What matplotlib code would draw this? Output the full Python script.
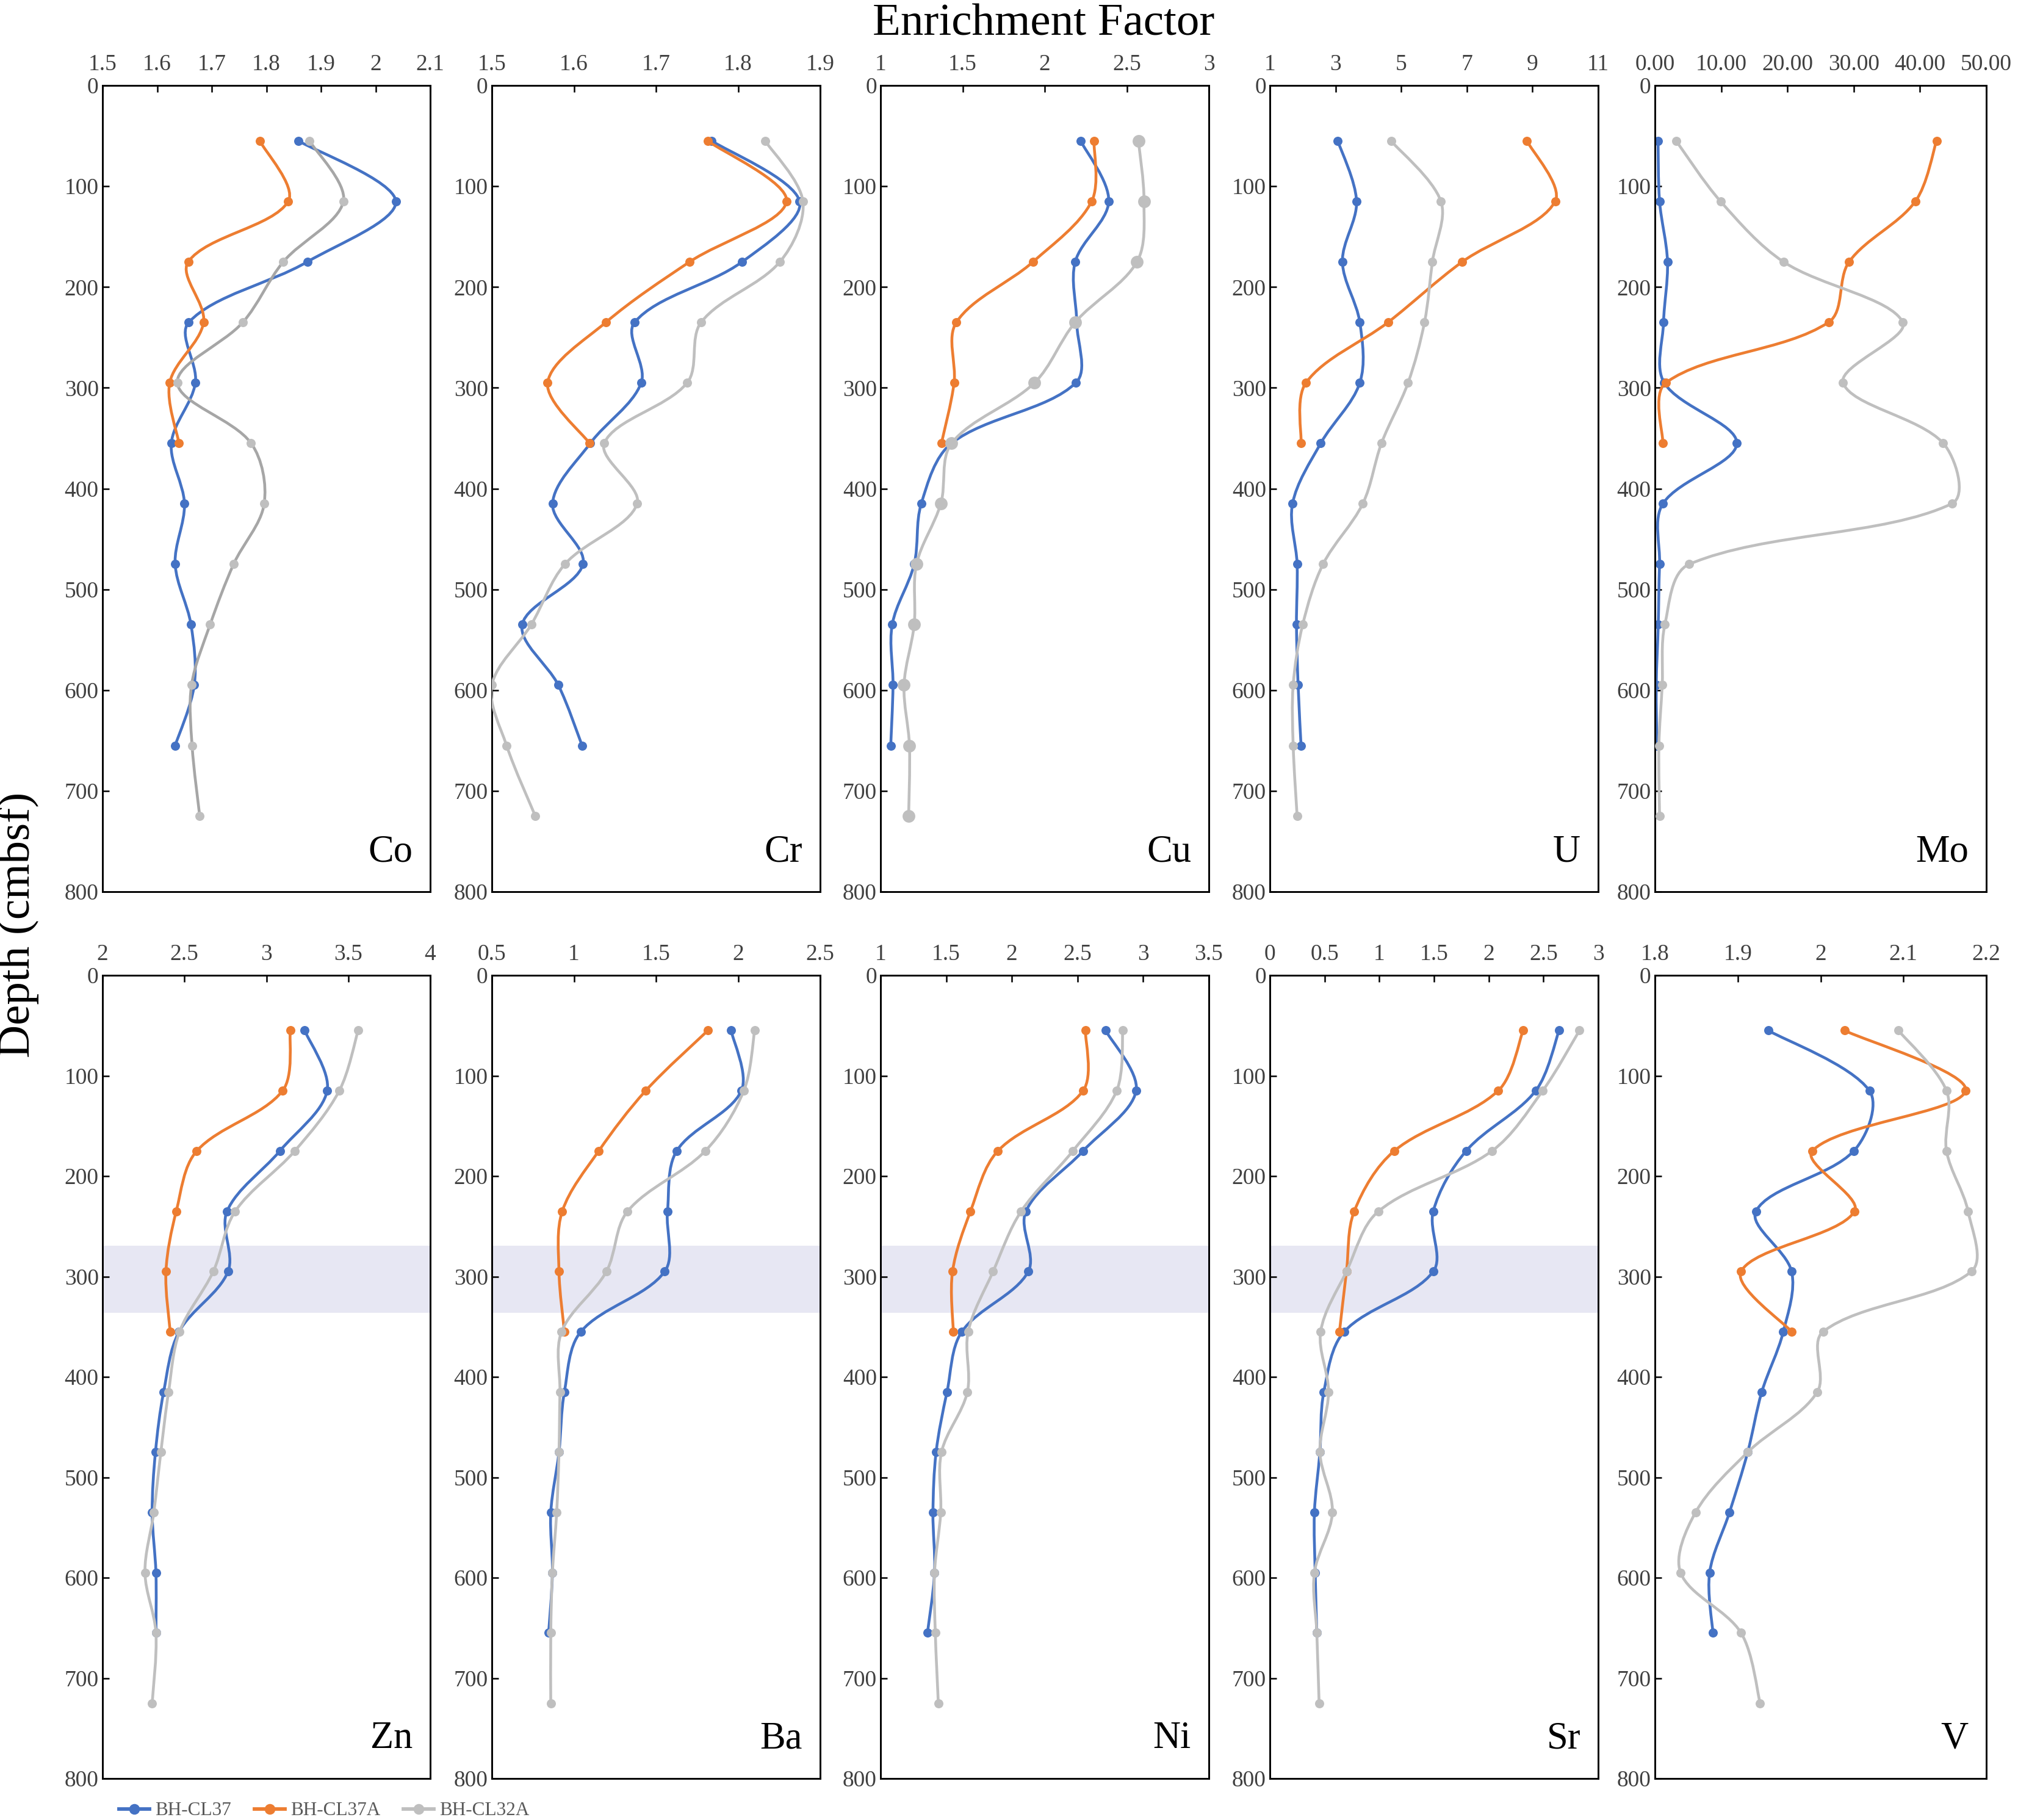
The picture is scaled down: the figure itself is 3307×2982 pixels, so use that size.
import numpy as np
import matplotlib
matplotlib.use("Agg")
import matplotlib.pyplot as plt
from matplotlib.path import Path
from matplotlib.patches import PathPatch
from matplotlib.lines import Line2D

plt.rcParams['font.family'] = ['Liberation Serif', 'DejaVu Serif']

# sample depths (cmbsf) for each core
depth_37 = [55, 115, 175, 235, 295, 355, 415, 475, 535, 595, 655]
depth_37a = [55, 115, 175, 235, 295, 355]
depth_32a = [55, 115, 175, 235, 295, 355, 415, 475, 535, 595, 655, 725]

# enrichment factors
co_37 = [1.859, 2.037, 1.875, 1.658, 1.670, 1.626, 1.650, 1.633, 1.662, 1.668, 1.633]
co_37a = [1.788, 1.840, 1.657, 1.685, 1.623, 1.640]
co_32a = [1.879, 1.941, 1.831, 1.757, 1.637, 1.772, 1.796, 1.740, 1.697, 1.663, 1.664, 1.678]
cr_37 = [1.768, 1.875, 1.805, 1.674, 1.682, 1.620, 1.574, 1.611, 1.537, 1.581, 1.610]
cr_37a = [1.763, 1.859, 1.741, 1.639, 1.568, 1.619]
cr_32a = [1.833, 1.879, 1.851, 1.755, 1.738, 1.637, 1.677, 1.589, 1.548, 1.500, 1.518, 1.553]
cu_37 = [2.219, 2.390, 2.186, 2.195, 2.190, 1.433, 1.248, 1.205, 1.071, 1.076, 1.062]
cu_37a = [2.300, 2.286, 1.929, 1.462, 1.448, 1.371]
cu_32a = [2.571, 2.605, 2.562, 2.186, 1.938, 1.433, 1.367, 1.219, 1.205, 1.143, 1.176, 1.171]
u_37 = [3.07, 3.64, 3.21, 3.74, 3.74, 2.55, 1.69, 1.83, 1.81, 1.86, 1.95]
u_37a = [8.83, 9.69, 6.86, 4.60, 2.10, 1.95]
u_32a = [4.69, 6.21, 5.95, 5.71, 5.21, 4.40, 3.83, 2.62, 2.00, 1.71, 1.71, 1.83]
mo_37 = [0.47, 0.70, 1.90, 1.30, 1.40, 12.35, 1.20, 0.70, 0.50, 0.20, 0.30]
mo_37a = [42.5, 39.3, 29.3, 26.2, 1.65, 1.20]
mo_32a = [3.2, 9.9, 19.4, 37.4, 28.4, 43.5, 44.8, 5.2, 1.5, 1.1, 0.6, 0.7]
zn_37 = [3.234, 3.371, 3.082, 2.760, 2.766, 2.467, 2.373, 2.323, 2.303, 2.326, 2.326]
zn_37a = [3.146, 3.099, 2.575, 2.450, 2.387, 2.413]
zn_32a = [3.560, 3.445, 3.173, 2.810, 2.676, 2.470, 2.403, 2.356, 2.313, 2.259, 2.326, 2.303]
ba_37 = [1.958, 2.020, 1.626, 1.570, 1.553, 1.042, 0.942, 0.909, 0.859, 0.869, 0.846]
ba_37a = [1.816, 1.437, 1.151, 0.929, 0.909, 0.942]
ba_32a = [2.101, 2.035, 1.800, 1.327, 1.198, 0.925, 0.915, 0.909, 0.895, 0.869, 0.859, 0.859]
ni_37 = [2.714, 2.946, 2.542, 2.107, 2.125, 1.619, 1.506, 1.423, 1.399, 1.411, 1.357]
ni_37a = [2.560, 2.542, 1.893, 1.685, 1.548, 1.554]
ni_32a = [2.845, 2.798, 2.464, 2.071, 1.857, 1.667, 1.661, 1.464, 1.458, 1.411, 1.417, 1.440]
sr_37 = [2.643, 2.429, 1.793, 1.493, 1.493, 0.679, 0.493, 0.457, 0.407, 0.414, 0.429]
sr_37a = [2.314, 2.086, 1.136, 0.771, 0.700, 0.636]
sr_32a = [2.829, 2.493, 2.029, 0.993, 0.700, 0.464, 0.536, 0.457, 0.571, 0.407, 0.429, 0.450]
v_37 = [1.937, 2.059, 2.040, 1.922, 1.965, 1.955, 1.929, 1.912, 1.890, 1.866, 1.870]
v_37a = [2.029, 2.175, 1.990, 2.041, 1.904, 1.965]
v_32a = [2.094, 2.152, 2.152, 2.178, 2.182, 2.003, 1.996, 1.912, 1.849, 1.831, 1.904, 1.927]

elements = ['Co', 'Cr', 'Cu', 'U', 'Mo', 'Zn', 'Ba', 'Ni', 'Sr', 'V']
values_37 = [co_37, cr_37, cu_37, u_37, mo_37, zn_37, ba_37, ni_37, sr_37, v_37]
values_37a = [co_37a, cr_37a, cu_37a, u_37a, mo_37a, zn_37a, ba_37a, ni_37a, sr_37a, v_37a]
values_32a = [co_32a, cr_32a, cu_32a, u_32a, mo_32a, zn_32a, ba_32a, ni_32a, sr_32a, v_32a]
# x axis (min, max, step) per panel
x_axes = [(1.5, 2.1, 0.1), (1.5, 1.9, 0.1), (1, 3, 0.5), (1, 11, 2), (0, 50, 10),
          (2, 4, 0.5), (0.5, 2.5, 0.5), (1, 3.5, 0.5), (0, 3, 0.5), (1.8, 2.2, 0.1)]
# shaded depth interval (cmbsf) on the lower row
band = (269, 336)

series_names = ['BH-CL37', 'BH-CL37A', 'BH-CL32A']
colors = ['#4472C4', '#ED7D31', '#BFBFBF']

W, H = 3307, 2982
fig = plt.figure(figsize=(W / 300, H / 300), dpi=300)

lefts = [168, 806, 1443, 2081, 2712]
widths = [537, 538, 538, 538, 543]
rows = [(140, 1461), (1598, 2914)]


def smooth_path(x, y, sx, sy):
    # Excel-like smoothed line: cubic Bezier, control arms weighted by
    # the on-screen length of the neighbouring segments
    p = np.column_stack([x, y]).astype(float)
    n = len(p)
    scale = np.array([sx, sy])
    seg = np.hypot(*((p[1:] - p[:-1]) * scale).T)
    fwd = np.zeros_like(p)
    bwd = np.zeros_like(p)
    fwd[0] = (p[1] - p[0]) / 6
    bwd[-1] = (p[-1] - p[-2]) / 6
    for i in range(1, n - 1):
        t = p[i + 1] - p[i - 1]
        tot = seg[i - 1] + seg[i]
        fwd[i] = t / 3 * seg[i] / tot
        bwd[i] = t / 3 * seg[i - 1] / tot
    verts = [p[0]]
    codes = [Path.MOVETO]
    for i in range(n - 1):
        verts += [p[i] + fwd[i], p[i + 1] - bwd[i + 1], p[i + 1]]
        codes += [Path.CURVE4] * 3
    return Path(verts, codes)


def fmt(v, step):
    if step == 10:
        return f"{v:.2f}"
    return f"{v:g}"


for k, el in enumerate(elements):
    r, c = divmod(k, 5)
    top, bot = rows[r]
    ax = fig.add_axes([lefts[c] / W, 1 - bot / H, widths[c] / W, (bot - top) / H])
    xmin, xmax, step = x_axes[k]
    ax.set_xlim(xmin, xmax)
    ax.set_ylim(800, 0)
    sx = widths[c] / (xmax - xmin)
    sy = (bot - top) / 800

    if r == 1 and el != 'V':
        ax.axhspan(band[0], band[1], color='#E7E7F3', lw=0, zorder=0)

    data = [(values_37[k], depth_37), (values_37a[k], depth_37a), (values_32a[k], depth_32a)]
    for j, (vals, dep) in enumerate(data):
        line_col = colors[j]
        if el == 'Co' and j == 2:
            line_col = '#A6A6A6'   # the Co panel has a darker grey line
        patch = PathPatch(smooth_path(vals, dep, sx, sy), facecolor='none', edgecolor=line_col,
                          lw=1.1, capstyle='round', joinstyle='round', zorder=2 + j)
        ax.add_patch(patch)
        ms = 5.0 if (el == 'Cu' and j == 2) else 3.6
        ax.plot(vals, dep, 'o', color=colors[j], ms=ms, mec='none', zorder=2 + j)

    xt = np.arange(xmin, xmax + step / 2, step)
    ax.set_xticks(xt)
    ax.set_xticklabels([fmt(v, step) for v in xt])
    ax.set_yticks(np.arange(0, 801, 100))
    ax.xaxis.tick_top()
    ax.tick_params(axis='both', direction='in', length=2.6, width=0.6,
                   labelsize=9, labelcolor='#404040')
    ax.tick_params(axis='x', pad=4)
    ax.tick_params(axis='y', pad=1.5)
    for s in ax.spines.values():
        s.set_linewidth(0.7)
        s.set_color('black')

    ax.text(0.946, 0.027, el, transform=ax.transAxes, ha='right', va='bottom',
            fontsize=15, color='black')

fig.text(1710 / W, 1 - 57 / H, 'Enrichment Factor', ha='center', va='baseline', fontsize=18)
fig.text(30 / W, 1 - 1515 / H, 'Depth (cmbsf)', ha='center', va='center',
         rotation=90, fontsize=18)

handles = [Line2D([0], [0], color=colors[j], lw=1.4, marker='o', ms=3.2) for j in range(3)]
fig.legend(handles, series_names, loc='center left', bbox_to_anchor=(195 / W, 1 - 2967 / H),
           ncol=3, frameon=False, fontsize=7.5, handlelength=1.6, handletextpad=0.3,
           columnspacing=1.2, borderaxespad=0, borderpad=0, labelcolor='#595959')

fig.savefig('out.png', dpi=300)
